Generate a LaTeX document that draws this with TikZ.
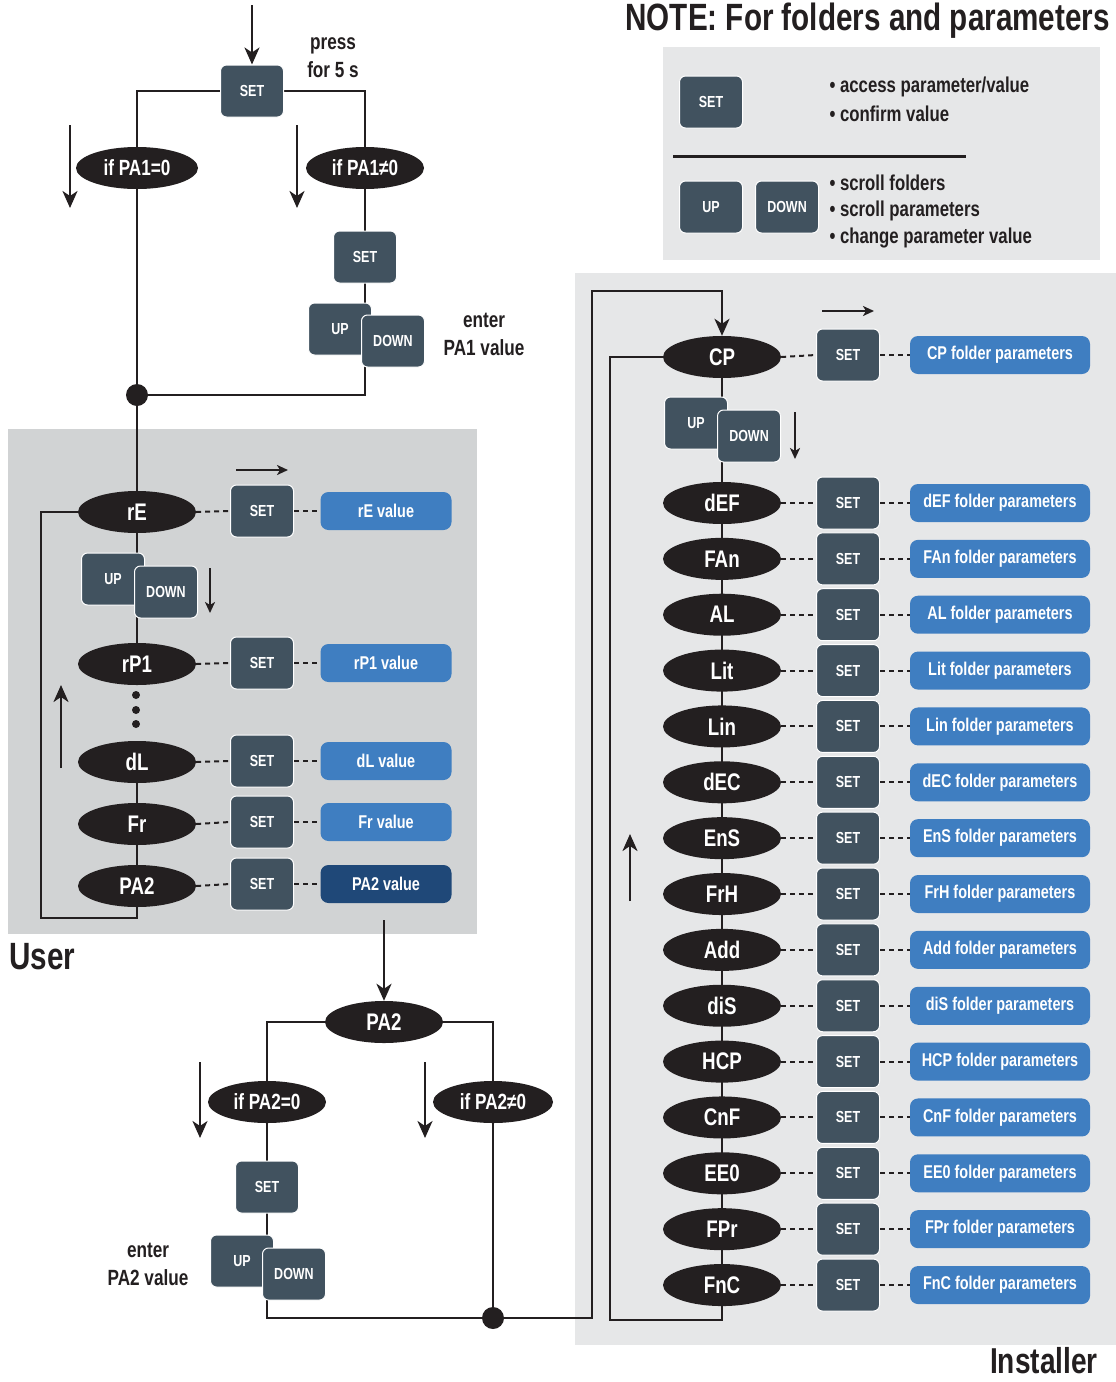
\documentclass[tikz,border=0pt]{standalone}
\usepackage{fontspec}
\setmainfont{Liberation Sans}[FakeStretch=0.78]
\usetikzlibrary{shapes.geometric,arrows.meta}
\pgfdeclarelayer{bgA}\pgfdeclarelayer{bgB}\pgfsetlayers{bgA,bgB,main}
\definecolor{btnc}{HTML}{41525F}
\definecolor{ellc}{HTML}{231F20}
\definecolor{valc}{HTML}{3F7EC1}
\definecolor{valdark}{HTML}{1F4878}
\definecolor{userbg}{HTML}{D1D3D4}
\definecolor{instbg}{HTML}{E6E7E8}
\newcommand\myfs[1]{\fontsize{#1}{#1}\selectfont\bfseries}
\newcommand\myfsl[2]{\fontsize{#1}{#2}\selectfont\bfseries}
\tikzset{
  btn/.style={draw=white, line width=1pt, fill=btnc, rounded corners=6pt, minimum width=63pt, minimum height=52pt, inner sep=0pt, text=white, font=\myfs{16}},
  ell/.style={ellipse, fill=ellc, minimum width=118pt, minimum height=42pt, inner sep=0pt, text=white, font=\myfs{24}},
  valbox/.style={fill=valc, rounded corners=8pt, minimum width=131pt, minimum height=38pt, inner sep=0pt, text=white, font=\myfs{18.5}},
  fvalbox/.style={valbox, minimum width=180pt},
  conn/.style={line width=2.5pt, draw=ellc},
  dashline/.style={line width=2pt, draw=ellc, dash pattern=on 5pt off 4pt},
  bigarrow/.style={line width=2.5pt, draw=ellc, -{Stealth[length=17pt,width=15pt,inset=5pt]}},
  smallarrow/.style={line width=2pt, draw=ellc, -{Stealth[length=11pt,width=10pt,inset=3pt]}},
  junction/.style={circle, fill=ellc, minimum size=22pt, inner sep=0pt},
  plain/.style={text=ellc, align=center, font=\myfsl{22}{28}},
  bullet/.style={text=ellc, anchor=west, font=\myfs{21.5}},
}
\begin{document}
\begin{tikzpicture}[x=1pt,y=-1pt]
\useasboundingbox (0,0) rectangle (1116,1382);
% background panels
\begin{pgfonlayer}{bgA}
  \fill[white] (0,0) rectangle (1116,1382);
  \fill[userbg] (8,429) rectangle (477,934);
  \fill[instbg] (575,273) rectangle (1116,1345);
  \fill[instbg] (663,47) rectangle (1100,260);
\end{pgfonlayer}

% ---------- NOTE ----------
\node[anchor=west, text=ellc, font=\myfs{38}] (note) at (622,21) {NOTE: For folders and parameters};
\node[btn] (nset) at (711,102) {SET};
\node[bullet] (nb1) at (826,87) {• access parameter/value};
\node[bullet] (nb2) at (826,114) {• confirm value};
\draw[line width=3pt, draw=ellc] (673,156) -- (966,156);
\node[btn] (nup) at (711,207) {UP};
\node[btn] (ndn) at (787,207) {DOWN};
\node[bullet] (nb3) at (826,183) {• scroll folders};
\node[bullet] (nb4) at (826,211) {• scroll parameters};
\node[bullet] (nb5) at (826,238) {• change parameter value};

% ---------- top: PA1 ----------
\coordinate (in0) at (252,5);
\node[btn] (s0) at (252,91) {SET};
\node[plain] (press) at (333,58) {press\\for 5 s};
\node[ell, minimum width=122pt, font=\myfs{22}] (c1) at (137,168) {if PA1=0};
\node[ell, minimum width=118pt, font=\myfs{22}] (c2) at (365,168) {if PA1≠0};
\node[btn] (s1) at (365,257) {SET};
\node[btn] (up1) at (340,329) {UP};
\node[btn] (dn1) at (393,341) {DOWN};
\node[plain] (enter1) at (484,334) {enter\\PA1 value};
\node[junction] (j1) at (137,395) {};
\draw[bigarrow] (in0) -- (s0.north);
\draw[bigarrow] (70,125) -- (70,208);
\draw[bigarrow] (297,125) -- (297,208);
\begin{pgfonlayer}{bgB}
  \draw[conn] (s0.west) -| (c1.north);
  \draw[conn] (s0.east) -| (c2.north);
  \draw[conn] (c2.south) |- (j1.center);
  \draw[conn] (c1.south) -- (j1.center);
\end{pgfonlayer}

% ---------- User ----------
\node[anchor=west, text=ellc, font=\myfs{38}] (user) at (6,957) {User};
\node[ell] (u1) at (137,512) {rE};
\node[btn] (us1) at (262,511) {SET};
\node[valbox] (uv1) at (386,511) {rE value};
\node[btn] (uup) at (113,579) {UP};
\node[btn] (udn) at (166,592) {DOWN};
\node[ell] (u2) at (137,664) {rP1};
\node[btn] (us2) at (262,663) {SET};
\node[valbox] (uv2) at (386,663) {rP1 value};
\node[ell] (u3) at (137,762) {dL};
\node[btn] (us3) at (262,761) {SET};
\node[valbox] (uv3) at (386,761) {dL value};
\node[ell] (u4) at (137,824) {Fr};
\node[btn] (us4) at (262,822) {SET};
\node[valbox] (uv4) at (386,822) {Fr value};
\node[ell] (u5) at (137,886) {PA2};
\node[btn] (us5) at (262,884) {SET};
\node[valbox, fill=valdark] (uv5) at (386,884) {PA2 value};
\foreach \k in {1,...,5}{
  \draw[dashline] (u\k.east) -- (us\k.west);
  \draw[dashline] (us\k.east) -- (uv\k.west);
}
\foreach \yy [count=\k] in {695,710,724}{
  \fill[ellc] (136,\yy) circle (4pt);
}
\draw[smallarrow] (236,470) -- (288,470);
\draw[smallarrow] (210,568) -- (210,613);
\draw[bigarrow] (61,768) -- (61,685);
\begin{pgfonlayer}{bgB}
  \draw[conn] (j1.center) -- (u1.north);
  \draw[conn] (u1) -- (u2);
  \draw[conn] (u3) -- (u4) -- (u5);
  \draw[conn] (u5.south) |- (41,918) |- (u1.west);
\end{pgfonlayer}

% ---------- PA2 branch ----------
\node[ell] (p2) at (384,1022) {PA2};
\draw[bigarrow] (384,920) -- (p2.north);
\node[ell, minimum width=118pt, font=\myfs{22}] (d1) at (267,1102) {if PA2=0};
\node[ell, minimum width=120pt, font=\myfs{22}] (d2) at (493,1102) {if PA2≠0};
\node[btn] (s2) at (267,1187) {SET};
\node[btn] (up2) at (242,1261) {UP};
\node[btn] (dn2) at (294,1274) {DOWN};
\node[plain] (enter2) at (148,1264) {enter\\PA2 value};
\node[junction] (j2) at (493,1318) {};
\draw[bigarrow] (200,1062) -- (200,1138);
\draw[bigarrow] (425,1062) -- (425,1138);

% ---------- Installer ----------
\node[anchor=east, text=ellc, font=\myfs{36}, inner sep=1pt] (inst) at (1099,1361) {Installer};
\node[ell] (f0) at (722,357) {CP};
\node[btn] (fs0) at (848,355) {SET};
\node[fvalbox] (fv0) at (1000,355) {CP folder parameters};
\node[btn] (fup) at (696,423) {UP};
\node[btn] (fdn) at (749,436) {DOWN};
\foreach \n [count=\k] in {dEF,FAn,AL,Lit,Lin,dEC,EnS,FrH,Add,diS,HCP,CnF,EE0,FPr,FnC}{
  \pgfmathsetmacro\yy{503+55.86*(\k-1)}
  \node[ell] (f\k) at (722,\yy) {\n};
  \node[btn] (fs\k) at (848,\yy) {SET};
  \node[fvalbox] (fv\k) at (1000,\yy) {\n\ folder parameters};
}
\foreach \k in {0,...,15}{
  \draw[dashline] (f\k.east) -- (fs\k.west);
  \draw[dashline] (fs\k.east) -- (fv\k.west);
}
\draw[smallarrow] (822,311) -- (874,311);
\draw[smallarrow] (795,412) -- (795,459);
\draw[bigarrow] (630,901) -- (630,834);
\draw[bigarrow] (j2.center) -| (592,291) -| (f0.north);
\begin{pgfonlayer}{bgB}
  \draw[conn] (p2.west) -| (d1.north);
  \draw[conn] (p2.east) -| (d2.north);
  \draw[conn] (d1.south) |- (j2.center);
  \draw[conn] (d2.south) -- (j2.center);
  \draw[conn] (f0) -- (f15);
  \draw[conn] (f15.south) |- (610,1320) |- (f0.west);
\end{pgfonlayer}
\end{tikzpicture}
\end{document}
